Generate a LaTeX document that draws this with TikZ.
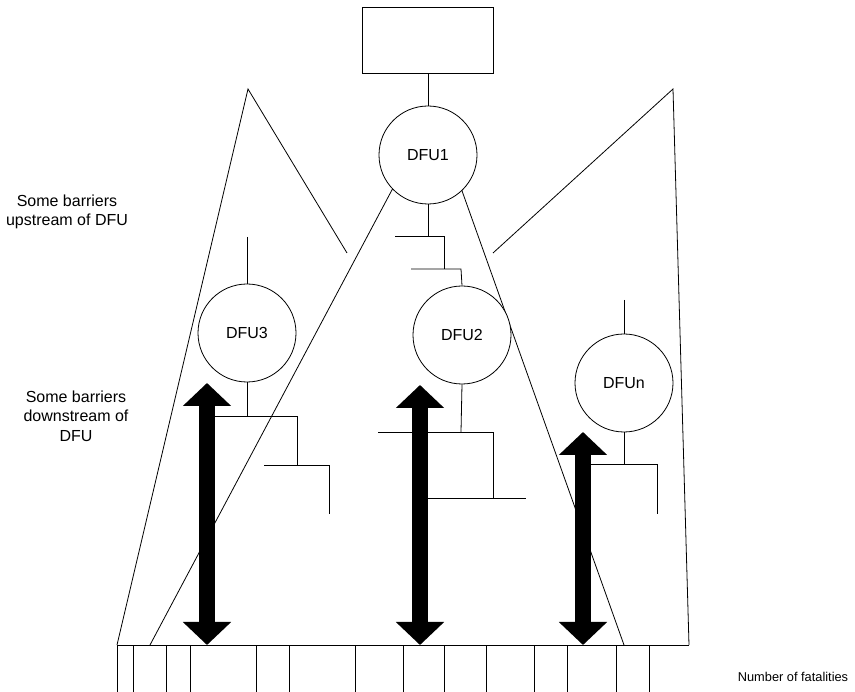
\documentclass[tikz,border=0pt]{standalone}
\usepackage{fontspec}
\setmainfont{Liberation Sans}
\usetikzlibrary{arrows.meta}
\begin{document}
\begin{tikzpicture}[x=1pt,y=-1pt,
  wire/.style={line width=0.8pt,line cap=butt},
  dfu/.style={circle,draw,line width=0.8pt,fill=white,minimum size=98pt,inner sep=0pt,
    font=\fontsize{16}{19}\selectfont},
  topbox/.style={draw,line width=0.8pt,minimum width=131pt,minimum height=66pt,inner sep=0pt},
  barrier/.style={line width=16pt,
    {Triangle[width=47pt,length=23pt]}-{Triangle[width=47pt,length=23pt]}},
  note/.style={align=center,font=\fontsize{16}{19.5}\selectfont},
  smallnote/.style={align=center,font=\fontsize{12.8}{15}\selectfont}
]
\useasboundingbox (0,0) rectangle (855,692);

% corner points of the two outer fans and the central fan
\coordinate (lapex) at (248,89);
\coordinate (lfoot) at (117,645);
\coordinate (lend)  at (347,253);
\coordinate (rapex) at (673,89);
\coordinate (rend)  at (493,253);
\coordinate (rfoot) at (689,645);
\coordinate (cl0) at (393,188);
\coordinate (cl1) at (150,645);
\coordinate (cr0) at (461,188);
\coordinate (cr1) at (624,645);

% fans
\draw[wire] (lend) -- (lapex) -- (lfoot);
\draw[wire] (rend) -- (rapex) -- (rfoot);
\draw[wire] (cl0) -- (cl1);
\draw[wire] (cr0) -- (cr1);

% fatality scale
\coordinate (base0) at (117,645);
\coordinate (base1) at (689,645);
\draw[wire] (base0) -- (base1);
\foreach \x in {117,133,166,190,256,289,355,403,444,486,534,567,616,649}
  \draw[wire] (\x,645) -- (\x,692);

% top event and DFU nodes
\node[topbox] (top) at (427.5,40) {};
\node[dfu] (dfu1) at (428,155) {DFU1};
\node[dfu] (dfu2) at (462,335) {DFU2};
\node[dfu] (dfu3) at (247,333) {DFU3};
\node[dfu] (dfun) at (624,383) {DFUn};

\draw[wire] (top.south -| dfu1) -- (dfu1.north);

% upstream barriers of DFU1 leading to DFU2
\coordinate (a1) at (428,236);
\coordinate (a2) at (444,236);
\coordinate (a3) at (444,269);
\coordinate (a4) at (461,269);
\draw[wire] (dfu1.south) -- (a1);
\draw[wire] (395,236) -- (a2) -- (a3);
\draw[wire] (411,269) -- (a4) -- (dfu2.north);

% stub above DFU3 and DFUn
\coordinate (s3) at (247,237);
\coordinate (sn) at (624,300);
\draw[wire] (s3) -- (dfu3.north);
\draw[wire] (sn) -- (dfun.north);

% downstream barriers of DFU3
\coordinate (b1) at (247,416);
\coordinate (b2) at (297,416);
\coordinate (b3) at (297,465);
\coordinate (b4) at (329,465);
\coordinate (b5) at (329,514);
\draw[wire] (dfu3.south) -- (b1);
\draw[wire] (210,416) -- (b2) -- (b3);
\draw[wire] (264,465) -- (b4) -- (b5);

% downstream barriers of DFU2
\coordinate (c1) at (461,432);
\coordinate (c2) at (493,432);
\coordinate (c3) at (493,498);
\draw[wire] (dfu2.south) -- (c1);
\draw[wire] (378,432) -- (c2) -- (c3);
\draw[wire] (420,498) -- (526,498);

% downstream barriers of DFUn
\coordinate (d1) at (624,464);
\coordinate (d2) at (657,464);
\coordinate (d3) at (657,514);
\draw[wire] (dfun.south) -- (d1);
\draw[wire] (585,464) -- (d2) -- (d3);

% consequence arrows
\coordinate (e1t) at (207,383);
\coordinate (e1b) at (207,645);
\coordinate (e2t) at (420,385);
\coordinate (e2b) at (420,645);
\coordinate (e3t) at (583,432);
\coordinate (e3b) at (583,645);
\draw[barrier] (e1t) -- (e1b);
\draw[barrier] (e2t) -- (e2b);
\draw[barrier] (e3t) -- (e3b);

% labels
\node[note] (up) at (67,212) {Some barriers\\upstream of DFU};
\node[note] (down) at (76,416) {Some barriers\\downstream of\\DFU};
\node[smallnote] (fat) at (793,677) {Number of fatalities};
\end{tikzpicture}
\end{document}
